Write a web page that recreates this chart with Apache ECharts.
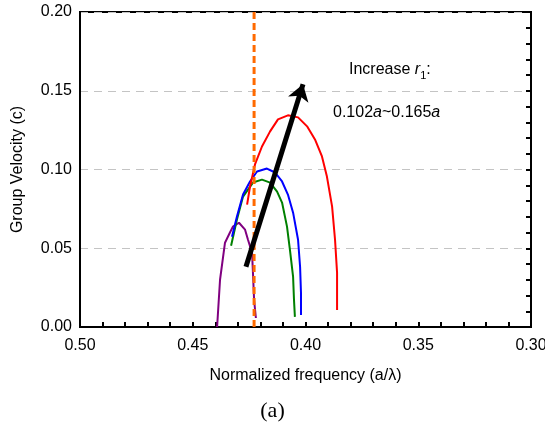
<!DOCTYPE html>
<html>
<head>
<meta charset="utf-8">
<script src="https://cdn.jsdelivr.net/npm/echarts@6/dist/echarts.min.js"></script>
<style>
  html, body { margin: 0; padding: 0; background: #fff; }
  #chart { width: 545px; height: 427px; }
</style>
</head>
<body>
<div id="chart"></div>
<script>
// 数据 [归一化频率, 群速度]
var purpleData = [[0.4392, 0.000], [0.4379, 0.030], [0.4357, 0.0535], [0.4335, 0.060], [0.4322, 0.0637],
  [0.4295, 0.0662], [0.4268, 0.0618], [0.4255, 0.0554], [0.4237, 0.0471], [0.4233, 0.0344],
  [0.4228, 0.0172], [0.4220, 0.0057]];
var greenData = [[0.4330, 0.0516], [0.4304, 0.0682], [0.4277, 0.0828], [0.4233, 0.0917], [0.4193, 0.0936],
  [0.4157, 0.0917], [0.4126, 0.0860], [0.4104, 0.0790], [0.4082, 0.0637], [0.4069, 0.0490],
  [0.4055, 0.0318], [0.4051, 0.0172], [0.4047, 0.0064]];
var blueData = [[0.4326, 0.0573], [0.4304, 0.0701], [0.4277, 0.0841], [0.4246, 0.0924], [0.4215, 0.0987],
  [0.4171, 0.1006], [0.4135, 0.0981], [0.4104, 0.0924], [0.4078, 0.0841], [0.4055, 0.0726],
  [0.4033, 0.0554], [0.4024, 0.0382], [0.4020, 0.0217], [0.4020, 0.0076]];
var redData = [[0.4259, 0.0777], [0.4246, 0.0892], [0.4224, 0.1032], [0.4193, 0.1146], [0.4157, 0.1242],
  [0.4122, 0.1318], [0.4078, 0.1344], [0.4033, 0.1331], [0.3993, 0.1274], [0.3958, 0.1191],
  [0.3927, 0.1083], [0.3905, 0.0955], [0.3882, 0.0764], [0.3869, 0.0554], [0.3860, 0.0344],
  [0.3860, 0.0108]];
var dashLine = [[0.4228, 0], [0.4228, 0.20]];
var arrowLine = [[0.4264, 0.0382], [0.4011, 0.1541]];

var font = 'Liberation Sans, Arial, sans-serif';

var chart = echarts.init(document.getElementById('chart'), null, { renderer: 'canvas' });

var option = {
  animation: false,
  backgroundColor: '#fff',
  grid: {
    left: 80,
    right: 14,
    top: 12,
    bottom: 100,
    outerBoundsMode: 'none', // 不自动收缩, 让 0.30 标签超出
    show: true,
    borderColor: '#000',
    borderWidth: 2
  },
  xAxis: {
    type: 'value',
    inverse: true,
    min: 0.30,
    max: 0.50,
    interval: 0.01,
    name: 'Normalized frequency (a/λ)',
    nameLocation: 'middle',
    nameGap: 41,
    nameTextStyle: { color: '#000', fontSize: 16, fontFamily: font },
    axisLine: { lineStyle: { color: '#000', width: 2 } },
    axisTick: { inside: true, length: 5, lineStyle: { color: '#000', width: 2 } },
    axisLabel: {
      color: '#000',
      fontSize: 16,
      fontFamily: font,
      margin: 11,
      formatter: function (v) {
        var n = Math.round(v * 100);
        return n % 5 === 0 ? (n / 100).toFixed(2) : '';
      }
    },
    splitLine: { show: false }
  },
  yAxis: [
    {
      type: 'value',
      min: 0,
      max: 0.20,
      interval: 0.05,
      name: 'Group Velocity (c)',
      nameLocation: 'middle',
      nameGap: 54,
      nameTextStyle: { color: '#000', fontSize: 16, fontFamily: font },
      axisLine: { show: true, lineStyle: { color: '#000', width: 2 } },
      axisTick: { show: false },
      axisLabel: {
        color: '#000',
        fontSize: 16,
        fontFamily: font,
        margin: 8,
        formatter: function (v) { return v.toFixed(2); }
      },
      splitLine: {
        show: true,
        lineStyle: { color: '#c4c4c4', type: [8, 6], width: 1 }
      }
    },
    {
      // 右侧刻度
      type: 'value',
      position: 'right',
      min: 0,
      max: 0.20,
      interval: 0.01,
      axisLine: { show: true, lineStyle: { color: '#000', width: 2 } },
      axisTick: { show: true, inside: true, length: 5, lineStyle: { color: '#000', width: 2 } },
      axisLabel: { show: false },
      splitLine: { show: false }
    }
  ],
  series: [
    {
      type: 'line',
      data: dashLine,
      showSymbol: false,
      z: 3,
      lineStyle: { color: '#ff6a00', width: 3, type: [7, 4] }
    },
    {
      type: 'line',
      data: purpleData,
      showSymbol: false,
      z: 2,
      lineStyle: { color: '#800080', width: 2 }
    },
    {
      type: 'line',
      data: greenData,
      showSymbol: false,
      z: 2,
      lineStyle: { color: '#008000', width: 2 }
    },
    {
      type: 'line',
      data: blueData,
      showSymbol: false,
      z: 2,
      lineStyle: { color: '#0000ff', width: 2 }
    },
    {
      type: 'line',
      data: redData,
      showSymbol: false,
      z: 2,
      lineStyle: { color: '#ff0000', width: 2 }
    },
    {
      // 黑色箭头
      type: 'lines',
      coordinateSystem: 'cartesian2d',
      z: 10,
      symbol: ['none', 'arrow'],
      symbolSize: [0, 16],
      lineStyle: { color: '#000', width: 5, opacity: 1 },
      data: [{ coords: arrowLine }]
    }
  ],
  graphic: [
    {
      type: 'text',
      left: 349,
      top: 62,
      z: 20,
      style: {
        text: 'Increase {i|r}{s|1}:',
        font: '16px ' + font,
        fill: '#000',
        rich: {
          i: { fontStyle: 'italic', fontSize: 16, fontFamily: font, lineHeight: 22 },
          s: { fontSize: 11, fontFamily: font, lineHeight: 22, verticalAlign: 'bottom', padding: [8, 0, 0, 0] }
        }
      }
    },
    {
      type: 'text',
      left: 333,
      top: 105,
      z: 20,
      style: {
        text: '0.102{i|a}~0.165{i|a}',
        font: '16px ' + font,
        fill: '#000',
        rich: {
          i: { fontStyle: 'italic', fontSize: 16, fontFamily: font }
        }
      }
    },
    {
      type: 'text',
      left: 'center',
      top: 400,
      style: {
        text: '(a)',
        font: '22px Liberation Serif, Times New Roman, serif',
        fill: '#000'
      }
    }
  ]
};

chart.setOption(option);
</script>
</body>
</html>
